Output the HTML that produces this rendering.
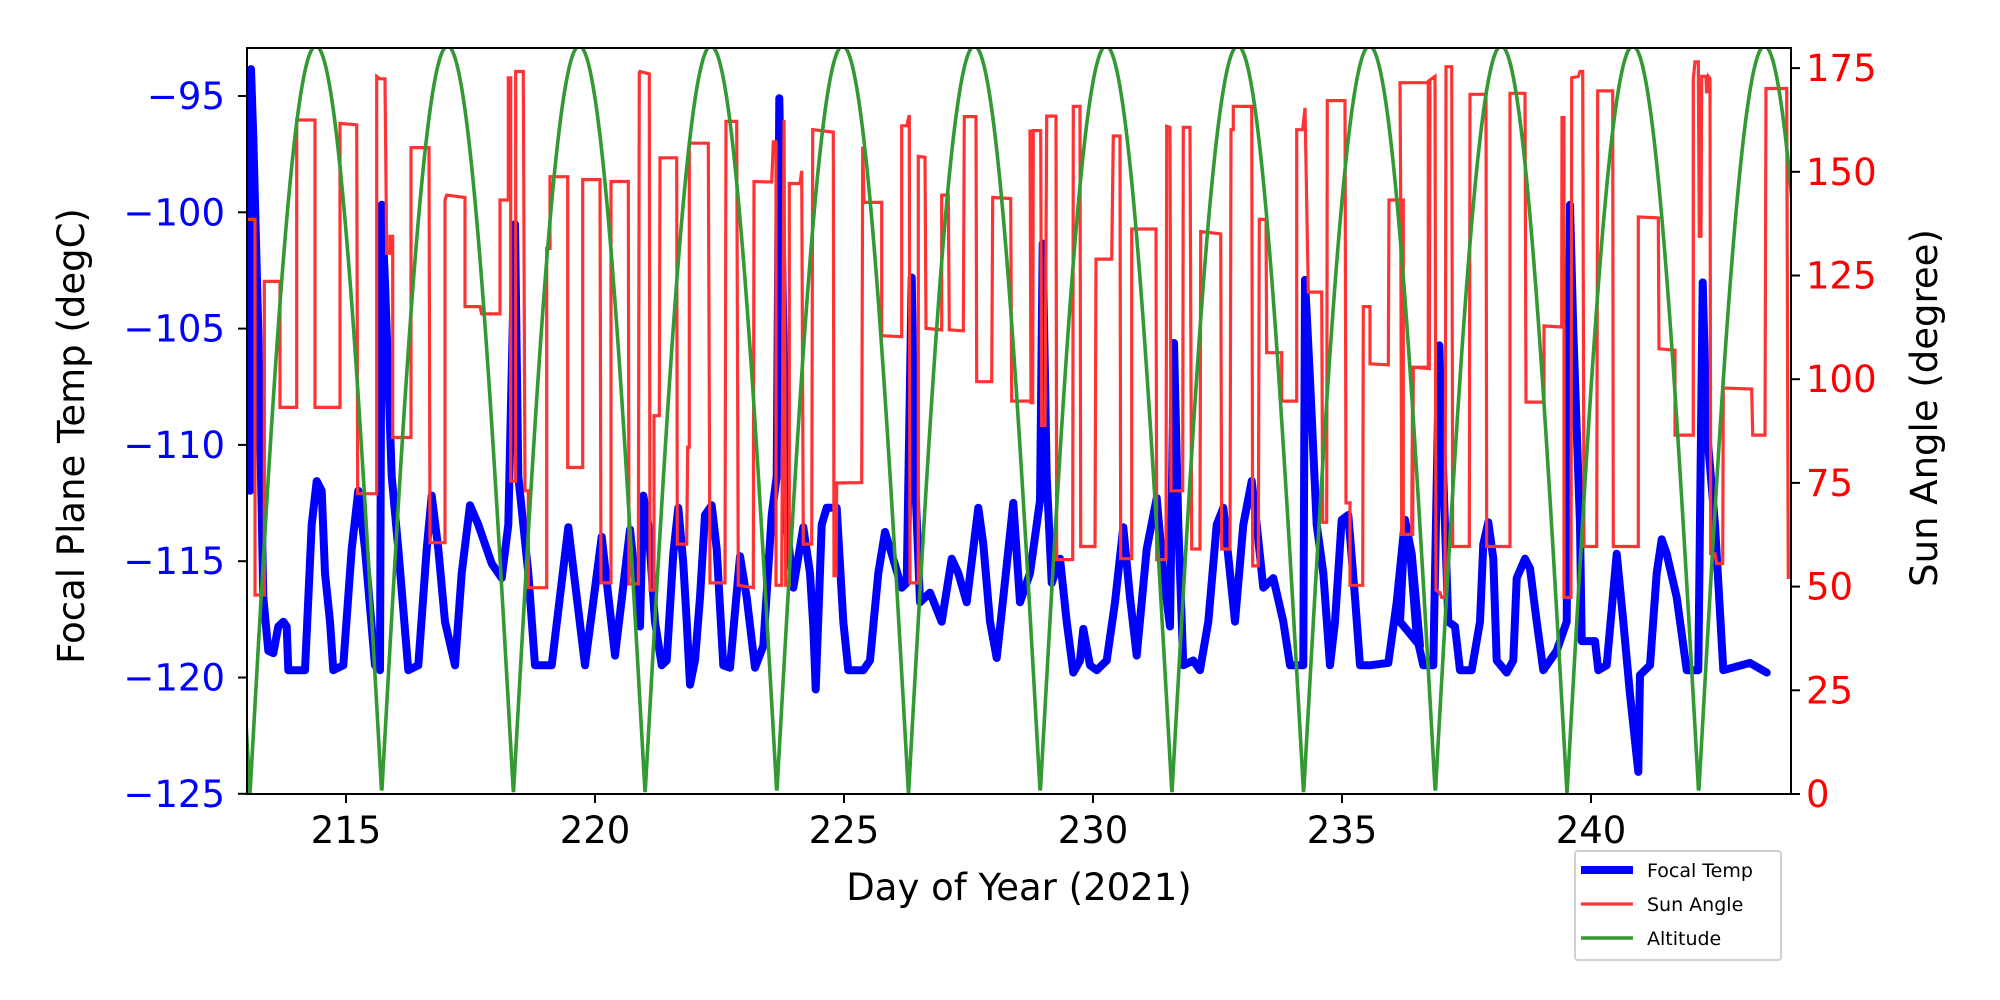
<!DOCTYPE html>
<html><head><meta charset="utf-8"><style>
html,body{margin:0;padding:0;background:#fff;}
svg{display:block;}
text{font-family:"DejaVu Sans","Liberation Sans",sans-serif;}
</style></head><body>
<svg id="s" width="2000" height="1000" xmlns="http://www.w3.org/2000/svg">
<rect width="2000" height="1000" fill="#fff"/>
<defs><clipPath id="c"><rect x="247" y="48" width="1544" height="746"/></clipPath></defs>
<g clip-path="url(#c)">
<path id="blue" fill="none" stroke="#0000ff" stroke-width="8" stroke-linejoin="round" stroke-linecap="round"/>
<path id="red" fill="none" stroke="rgb(255,51,51)" stroke-width="3.2"/>
<path id="green" fill="none" stroke="rgb(51,153,51)" stroke-width="3.6"/>
</g>
<rect x="247" y="48" width="1544" height="746" fill="none" stroke="#000" stroke-width="2"/>
<g id="ticks" stroke="#000" stroke-width="2"></g>
<g id="labels"></g>
<text x="1019" y="900" font-size="37" text-anchor="middle">Day of Year (2021)</text>
<text transform="translate(84,436) rotate(-90)" font-size="37" text-anchor="middle">Focal Plane Temp (degC)</text>
<text transform="translate(1937,408) rotate(-90)" font-size="37" text-anchor="middle">Sun Angle (degree)</text>
<rect x="1575" y="851" width="206" height="109" fill="#fff" stroke="#d0d0d0" stroke-width="2" rx="3"/>
<line x1="1581" y1="870" x2="1633" y2="870" stroke="#0000ff" stroke-width="8"/>
<line x1="1581" y1="904" x2="1633" y2="904" stroke="rgb(255,51,51)" stroke-width="3.2"/>
<line x1="1581" y1="938" x2="1633" y2="938" stroke="rgb(51,153,51)" stroke-width="3.6"/>
<text x="1647" y="877" font-size="19">Focal Temp</text>
<text x="1647" y="911" font-size="19">Sun Angle</text>
<text x="1647" y="945" font-size="19">Altitude</text>
</svg>
<script>
function conv(x0,arr){return arr.map(p=>[x0+p[0]/3,40+p[1]/2.063]);}
var B=[].concat(
conv(245,[[15,930],[18,60],[25,200],[40,600],[55,1150],[70,1260],[85,1265],[100,1210],[115,1200],[125,1210],[130,1300],[180,1300],[200,1000],[215,910],[230,930],[240,1100],[255,1200],[265,1300],[295,1290],[320,1050],[340,930],[360,1050],[390,1290],[405,1300],[410,340],[420,500],[440,900],[460,1050],[490,1300],[520,1290],[545,1050],[560,940],[580,1050],[600,1200],[630,1290],[650,1100],[675,960],[700,1000],[740,1080],[770,1110],[790,1000],[810,380],[820,900],[850,1100],[870,1290],[920,1290],[970,1005],[1020,1290],[1070,1025],[1110,1270],[1155,1010],[1185,1210]]),
conv(640,[[10,940],[25,1000],[45,1200],[65,1290],[80,1280],[100,1060],[115,965],[130,1080],[140,1200],[150,1330],[165,1280],[180,1150],[195,980],[215,960],[230,1050],[250,1290],[270,1295],[300,1065],[320,1150],[345,1295],[370,1250],[395,980],[410,900],[418,120],[425,400],[440,1000],[460,1130],[490,1005],[510,1100],[520,1210],[527,1340],[545,1000],[560,965],[590,965],[610,1200],[625,1300],[670,1300],[690,1280],[715,1100],[735,1015],[755,1060],[785,1130],[800,1120],[815,490],[825,900],[840,1160],[870,1140],[905,1200],[935,1070],[955,1100],[980,1160],[1015,965],[1030,1040],[1050,1200],[1070,1275],[1090,1150],[1120,955],[1140,1160],[1170,1100]]),
conv(1030,[[0,1100],[30,950],[38,420],[50,900],[65,1120],[90,1070],[110,1200],[130,1305],[150,1280],[160,1215],[180,1290],[200,1300],[230,1280],[255,1160],[280,1005],[300,1150],[320,1270],[350,1050],[380,945],[400,1100],[420,1210],[432,625],[445,1000],[460,1290],[490,1280],[510,1300],[535,1200],[560,1000],[580,965],[600,1100],[615,1200],[640,1000],[665,910],[680,1000],[700,1130],[730,1110],[760,1200],[780,1290],[820,1290],[825,495],[840,700],[860,1000],[880,1100],[900,1290],[915,1200],[935,990],[955,980],[975,1150],[990,1290],[1020,1290],[1075,1285],[1100,1160],[1125,990],[1145,1060],[1170,1250]]),
conv(1400,[[0,1200],[15,990],[30,1050],[50,1230],[70,1290],[100,1290],[118,630],[130,900],[145,1200],[165,1210],[180,1300],[215,1300],[240,1200],[250,1040],[265,995],[280,1070],[290,1280],[320,1305],[340,1280],[350,1110],[375,1070],[390,1090],[410,1200],[430,1300],[470,1260],[500,1200],[510,340],[520,600],[540,1000],[545,1240],[585,1240],[595,1300],[620,1290],[650,1060],[670,1200],[690,1350],[715,1510],[720,1310],[750,1290],[770,1100],[785,1030],[800,1060],[830,1150],[860,1300],[895,1300],[908,500],[920,800],[945,1000],[970,1300],[1050,1285],[1100,1305]]));
var R=[].concat(
conv(245,[[0,370],[30,370],[30,1145],[58,1145],[58,498],[105,498],[105,758],[155,758],[155,165],[210,165],[210,758],[285,758],[285,172],[335,175],[338,936],[395,936],[395,75],[405,80],[420,80],[425,440],[435,440],[435,405],[443,405],[443,820],[498,820],[498,222],[552,222],[555,1037],[600,1037],[600,330],[605,320],[660,325],[660,550],[705,550],[710,565],[765,565],[765,330],[790,330],[790,78],[797,78],[797,910],[812,910],[812,65],[835,65],[840,930],[850,930],[850,1130],[905,1130],[905,430],[915,430],[915,282],[968,282],[968,882],[1013,882],[1013,288],[1065,288],[1068,1120],[1098,1120],[1098,292],[1150,292],[1152,1122],[1180,1122],[1183,68]]),
conv(640,[[0,65],[28,70],[30,1135],[42,1135],[42,775],[58,775],[60,243],[110,243],[112,1040],[140,1040],[143,840],[148,840],[148,213],[205,213],[210,1120],[255,1120],[258,168],[290,168],[295,1125],[340,1130],[342,292],[395,293],[400,210],[408,210],[408,1125],[425,1125],[432,165],[437,1125],[448,1125],[448,296],[480,296],[485,270],[490,1040],[515,1040],[518,185],[580,190],[582,1105],[588,1105],[590,914],[665,913],[668,220],[672,335],[725,335],[725,610],[785,612],[785,177],[800,177],[808,155],[810,1120],[835,1120],[835,240],[855,242],[858,595],[905,598],[905,320],[925,320],[928,598],[970,600],[973,158],[1008,158],[1010,705],[1055,705],[1058,325],[1112,327],[1115,745],[1178,745],[1180,188]]),
conv(1030,[[0,188],[3,748],[8,748],[10,187],[32,187],[35,795],[45,795],[50,157],[78,157],[80,1072],[128,1072],[130,137],[150,137],[152,1045],[195,1045],[198,452],[245,452],[250,198],[270,198],[272,1070],[305,1070],[305,390],[378,390],[380,1072],[408,1072],[410,178],[420,180],[423,930],[458,930],[460,180],[480,180],[485,1050],[510,1050],[512,395],[572,400],[575,1050],[600,1050],[603,185],[610,185],[610,137],[665,137],[668,1085],[685,1085],[688,370],[708,370],[710,645],[755,645],[755,745],[800,745],[800,185],[818,185],[825,140],[835,520],[875,520],[878,995],[890,995],[892,125],[945,125],[948,955],[960,955],[960,1125],[998,1125],[1000,550],[1020,550],[1020,668],[1075,670],[1077,330],[1112,330],[1115,1020],[1145,1020],[1148,675],[1198,678],[1200,88]]),
conv(1400,[[0,88],[2,330],[10,330],[10,1020],[38,1020],[40,675],[85,675],[85,85],[105,75],[108,1135],[120,1140],[125,1150],[135,1150],[138,55],[155,55],[158,1045],[208,1045],[210,112],[258,112],[260,1045],[330,1045],[330,110],[375,110],[378,747],[432,747],[432,590],[485,592],[486,160],[492,160],[492,1150],[513,1150],[515,78],[535,75],[540,65],[548,65],[552,1045],[590,1045],[593,105],[638,105],[640,1045],[715,1045],[715,365],[775,367],[777,637],[825,640],[825,815],[880,815],[880,80],[885,45],[895,45],[898,405],[903,405],[905,75],[918,75],[920,110],[925,75],[930,80],[932,1060],[945,1060],[950,1080],[968,1080],[970,718],[1055,720],[1058,815],[1095,815],[1098,100],[1160,100],[1165,1112]]));
function d(a){return a.map((p,i)=>(i?'L':'M')+p[0].toFixed(1)+' '+p[1].toFixed(1)).join('');}
document.getElementById('blue').setAttribute('d',d(B));
document.getElementById('red').setAttribute('d',d(R));
var G=[];for(var X=240;X<=1800;X+=0.5){var v=Math.abs(Math.sin(Math.PI*(X-250)/131.7));G.push([X,794-748*v]);}
document.getElementById('green').setAttribute('d',d(G));
var t='',l='';
for(var k=0;k<=6;k++){var y=96+k*116.3;var v=-95-5*k;
t+='<line x1="238" y1="'+y+'" x2="247" y2="'+y+'"/>';
l+='<text x="225" y="'+(y+13)+'" font-size="37" fill="#0000ff" text-anchor="end">\u2212'+(-v)+'</text>';}
for(var k=0;k<=7;k++){var y=794-k*103.7;
t+='<line x1="1791" y1="'+y+'" x2="1800" y2="'+y+'"/>';
l+='<text x="1806" y="'+(y+13)+'" font-size="37" fill="#ff0000">'+(k*25)+'</text>';}
for(var k=0;k<6;k++){var x=346+k*249;
t+='<line x1="'+x+'" y1="794" x2="'+x+'" y2="803"/>';
l+='<text x="'+x+'" y="843" font-size="37" text-anchor="middle">'+(215+5*k)+'</text>';}
document.getElementById('ticks').innerHTML=t;
document.getElementById('labels').innerHTML=l;
</script>
</body></html>
